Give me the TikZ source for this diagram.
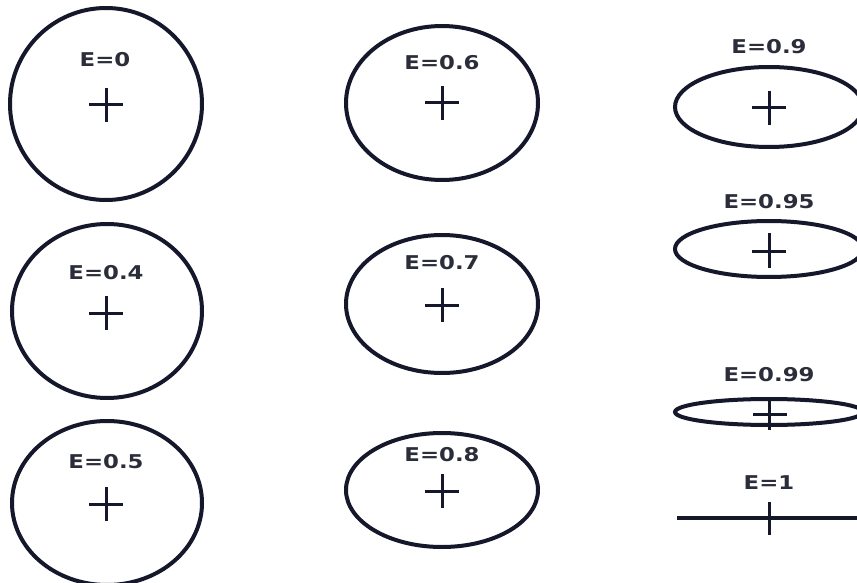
\documentclass[tikz,border=0pt]{standalone}
\usepackage{fontspec}
\setmainfont{DejaVu Sans}[FakeStretch=1.2]
\definecolor{ink}{HTML}{15172B}
\definecolor{txt}{HTML}{2B2D3A}
\begin{document}
\begin{tikzpicture}[x=1pt,y=-1pt,
  orbit/.style={draw=ink,line width=4pt},
  crossline/.style={draw=ink,line width=3pt},
  lab/.style={text=txt,font=\bfseries\fontsize{19}{19}\selectfont,inner sep=0pt,anchor=center}]
\useasboundingbox[fill=white] (0,0) rectangle (857,583);
% column 1
\draw[orbit] (106,104) ellipse [x radius=96,y radius=96];
\node[lab] (l0) at (105,60) {E=0};
\draw[crossline] (89,105) -- (123,105) (106,88) -- (106,122);

\draw[orbit] (107,311) ellipse [x radius=95,y radius=87];
\node[lab] (l4) at (106,273) {E=0.4};
\draw[crossline] (89,313) -- (123,313) (106,296) -- (106,330);

\draw[orbit] (107,503) ellipse [x radius=95,y radius=82];
\node[lab] (l5) at (106,462) {E=0.5};
\draw[crossline] (89,504) -- (123,504) (106,487) -- (106,521);

% column 2
\draw[orbit] (442,103) ellipse [x radius=96,y radius=77];
\node[lab] (l6) at (442,63) {E=0.6};
\draw[crossline] (425,103) -- (459,103) (442,86) -- (442,120);

\draw[orbit] (442,304) ellipse [x radius=96,y radius=69];
\node[lab] (l7) at (442,263) {E=0.7};
\draw[crossline] (425,305) -- (459,305) (442,288) -- (442,322);

\draw[orbit] (442,490) ellipse [x radius=96,y radius=57];
\node[lab] (l8) at (442,455) {E=0.8};
\draw[crossline] (425,491) -- (459,491) (442,474) -- (442,508);

% column 3
\draw[orbit] (769,107) ellipse [x radius=94,y radius=40];
\node[lab] (l9) at (769,47) {E=0.9};
\draw[crossline] (752,108) -- (786,108) (769,91) -- (769,125);

\draw[orbit] (769,249) ellipse [x radius=94,y radius=28];
\node[lab] (l95) at (769,202) {E=0.95};
\draw[crossline] (752,251) -- (786,251) (769,233) -- (769,268);

\draw[orbit] (769,412) ellipse [x radius=94,y radius=13];
\node[lab] (l99) at (769,375) {E=0.99};
\draw[crossline] (753,414) -- (787,414) (769,397) -- (769,430);

\node[lab] (l1) at (769,483) {E=1};
\draw[orbit] (677,518) -- (861,518);
\draw[crossline] (769,502) -- (769,535);
\end{tikzpicture}
\end{document}
